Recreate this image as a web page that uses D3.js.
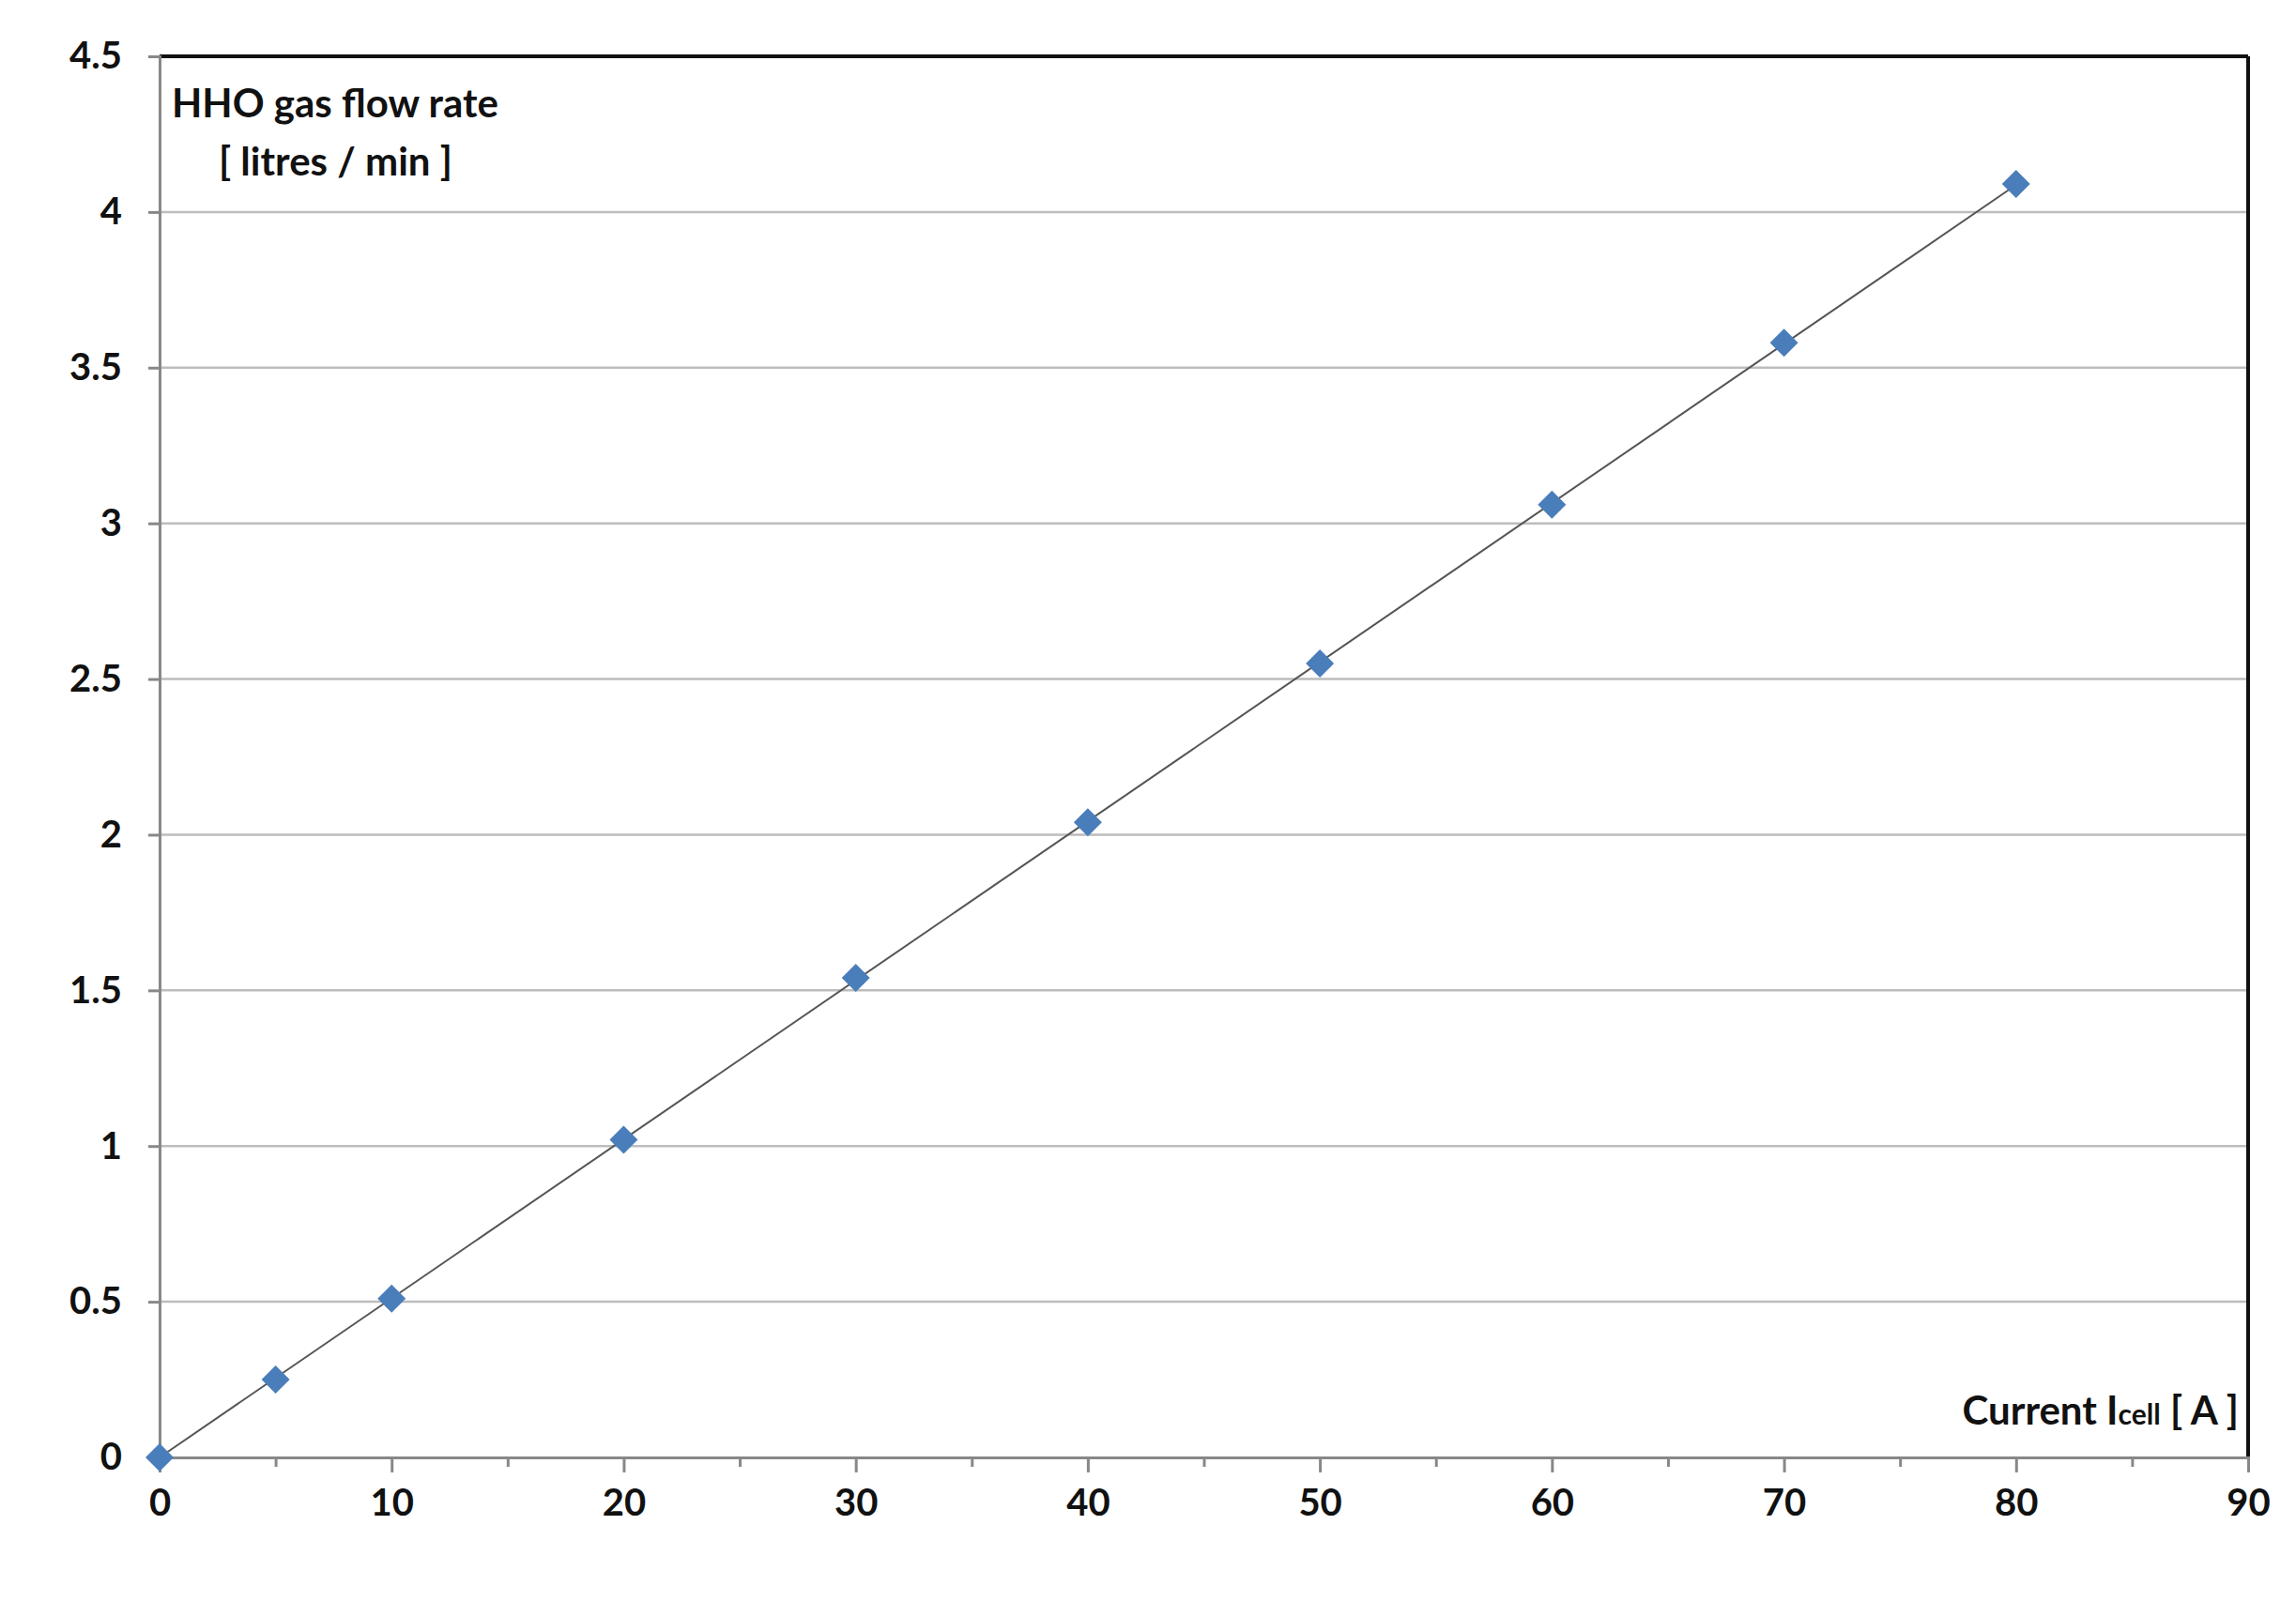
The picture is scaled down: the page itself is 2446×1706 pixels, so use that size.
<!DOCTYPE html><html><head><meta charset="utf-8"><script src="https://cdn.jsdelivr.net/npm/d3@7"></script>
<style>body{margin:0;background:#fff}</style></head><body><svg id="c" width="2446" height="1706"></svg><script>
const currentA=[0,5,10,20,30,40,50,60,70,80];
const flowRate=[0,0.25,0.51,1.02,1.54,2.04,2.55,3.06,3.58,4.09];
const xTicks=[0,10,20,30,40,50,60,70,80,90];
const yTicks=[0,0.5,1,1.5,2,2.5,3,3.5,4,4.5];
const slope=d3.sum(currentA.map((x,i)=>x*flowRate[i]))/d3.sum(currentA.map(x=>x*x));
const L=170,R=2395,T=60,B=1553;
const svg=d3.select("#c");
const x=d3.scaleLinear().domain([0,90]).range([L,R]);
const y=d3.scaleLinear().domain([0,4.5]).range([B,T]);
const font="Lato, 'Open Sans', sans-serif";
svg.append("g").selectAll("line").data(yTicks.slice(1,-1)).join("line")
 .attr("x1",L).attr("x2",R).attr("y1",d=>y(d)).attr("y2",d=>y(d)).attr("stroke","#bdbdbd").attr("stroke-width",2.5);
svg.append("line").attr("x1",L).attr("x2",R).attr("y1",T).attr("y2",T).attr("stroke","#111").attr("stroke-width",4);
svg.append("line").attr("x1",R).attr("x2",R).attr("y1",T).attr("y2",B).attr("stroke","#111").attr("stroke-width",4);
const ya=svg.append("g").attr("transform",`translate(${L},0)`).call(d3.axisLeft(y).tickValues(yTicks).tickFormat(d3.format("")).tickSize(12).tickPadding(28));
const xa=svg.append("g").attr("transform",`translate(0,${B})`).call(d3.axisBottom(x).tickValues(d3.range(0,91,5)).tickFormat(d=>xTicks.includes(d)?d:"").tickSize(12).tickPadding(22));
xa.selectAll(".tick line").attr("y2",d=>d%10===0?16:10);
[ya,xa].forEach(a=>{a.selectAll("path,line").attr("stroke","#888").attr("stroke-width",3);
 a.selectAll("text").attr("font-family",font).attr("font-weight","bold").attr("font-size",40).attr("fill","#111");});
svg.append("line").attr("x1",x(0)).attr("y1",y(0)).attr("x2",x(80)).attr("y2",y(slope*80)).attr("stroke","#555").attr("stroke-width",2);
svg.append("g").selectAll("path").data(currentA).join("path")
 .attr("d",d3.symbol(d3.symbolDiamond2,0).size(0)).attr("d","M0,-15L15,0L0,15L-15,0Z")
 .attr("transform",(d,i)=>`translate(${x(d)},${y(flowRate[i])})`).attr("fill","#4a7ebb");
const t=svg.append("g").attr("font-family",font).attr("font-weight","bold").attr("font-size",42).attr("fill","#111");
t.append("text").attr("x",183).attr("y",125).text("HHO gas flow rate");
t.append("text").attr("x",233).attr("y",187).text("[ litres / min ]");
const xl=t.append("text").attr("x",R-10).attr("y",1518).attr("text-anchor","end");
xl.append("tspan").text("Current I");
xl.append("tspan").attr("font-size",30).text("cell");
xl.append("tspan").text(" [ A ]");
</script></body></html>
